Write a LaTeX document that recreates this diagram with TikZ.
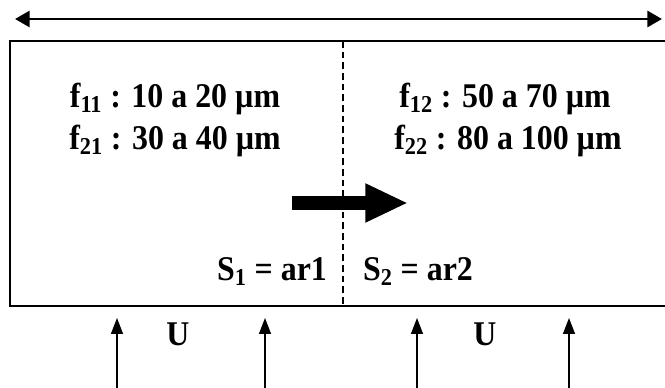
\documentclass[tikz,border=0pt]{standalone}
\usepackage{fontspec}
\setmainfont{Liberation Serif}
\newfontfamily\lblfont{Liberation Serif}[FakeStretch=0.92]
\usetikzlibrary{arrows.meta, positioning}

\begin{document}
\begin{tikzpicture}[x=0.75pt, y=-0.75pt,
  lbl/.style={font=\lblfont\bfseries\fontsize{26}{30}\selectfont, anchor=base, inner sep=0pt},
  flow/.style={-{Triangle[length=12pt, width=9pt]}, line width=1.1pt},
]
  \useasboundingbox (0,0) rectangle (665,388);
  \clip (0,0) rectangle (665,388);
  % span arrow on top
  \coordinate (spanL) at (15,19);
  \coordinate (spanR) at (662,19);
  \draw[{Triangle[length=11pt, width=12pt]}-{Triangle[length=11pt, width=12pt]}, line width=2.2pt] (spanL) -- (spanR);
  % channel with the two zones
  \draw[line width=2.2pt] (10,41) rectangle (668,306);
  \coordinate (cutT) at (343,41);
  \coordinate (cutB) at (343,306);
  \draw[dashed, line width=1.1pt, dash pattern=on 5pt off 3pt] (cutT) -- (cutB);
  \node[lbl] (f11) at (175,108) {f\textsubscript{11} : 10 a 20 µm};
  \node[lbl] (f21) at (175,150) {f\textsubscript{21} : 30 a 40 µm};
  \node[lbl] (f12) at (505,108) {f\textsubscript{12} : 50 a 70 µm};
  \node[lbl] (f22) at (508,150) {f\textsubscript{22} : 80 a 100 µm};
  % direction of motion
  \coordinate (moveA) at (292,203);
  \coordinate (moveB) at (408,203);
  \draw[line width=11pt, -{Triangle[length=32pt, width=27pt]}] (moveA) -- (moveB);
  \node[lbl] (s1) at (272,281) {S\textsubscript{1} = ar1};
  \node[lbl] (s2) at (418,281) {S\textsubscript{2} = ar2};
  % inflow from below
  \foreach \x [count=\i] in {117,265,417,569} {
    \coordinate (inB\i) at (\x,390);
    \coordinate (inT\i) at (\x,318);
    \draw[flow] (inB\i) -- (inT\i);
  }
  \node[lbl] (u1) at (178,346) {U};
  \node[lbl] (u2) at (485,346) {U};
\end{tikzpicture}
\end{document}
